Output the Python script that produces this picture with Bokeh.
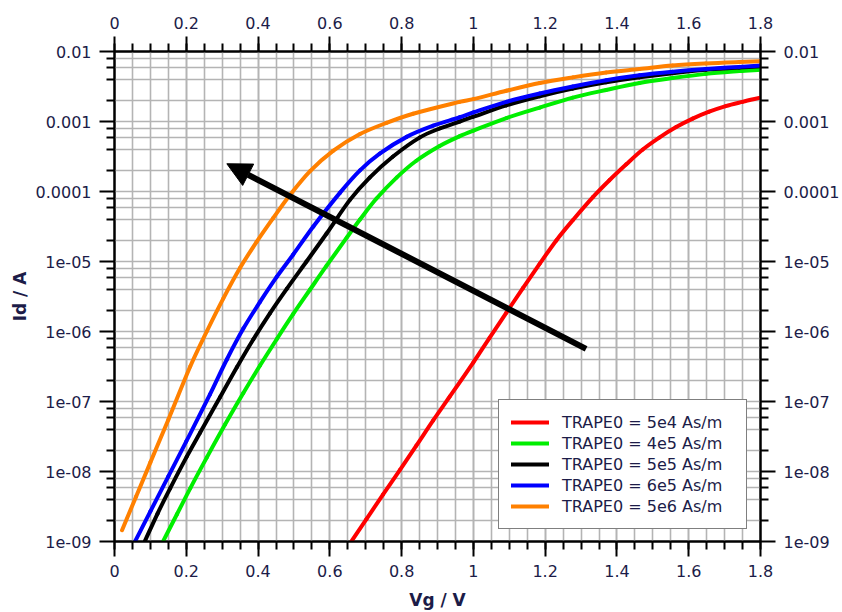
import math

from bokeh.plotting import figure
from bokeh.models import (LinearAxis, LogAxis, FixedTicker, CustomJSTickFormatter,
                          Legend, LegendItem, Arrow, NormalHead)
from bokeh.embed import file_html
from bokeh.resources import INLINE

# Transfer curves Id(Vg) for several TRAPE0 values
vg_red = [0.661, 0.702, 0.748, 0.795, 0.841, 0.888, 0.934, 1.0, 1.045, 1.092, 1.138, 1.185,
          1.231, 1.277, 1.333, 1.379, 1.426, 1.472, 1.518, 1.565, 1.611, 1.657, 1.703, 1.75, 1.8]
id_red = [1.02e-9, 2.09e-9, 4.68e-9, 1.05e-8, 2.34e-8, 5.37e-8, 1.17e-7, 3.63e-7, 8.13e-7,
          1.86e-6, 4.17e-6, 9.33e-6, 2.00e-5, 3.89e-5, 8.32e-5, 1.45e-4, 2.45e-4, 3.98e-4,
          5.89e-4, 8.32e-4, 1.10e-3, 1.38e-3, 1.66e-3, 1.91e-3, 2.19e-3]

vg_green = [0.136, 0.174, 0.211, 0.257, 0.308, 0.359, 0.405, 0.452, 0.498, 0.545, 0.591, 0.647,
            0.684, 0.73, 0.786, 0.841, 0.906, 0.962, 1.0, 1.092, 1.185, 1.277, 1.37, 1.463,
            1.555, 1.648, 1.741, 1.8]
id_green = [1.02e-9, 2.45e-9, 5.75e-9, 1.58e-8, 4.68e-8, 1.32e-7, 3.24e-7, 7.76e-7, 1.78e-6,
            3.98e-6, 8.71e-6, 2.19e-5, 3.98e-5, 7.94e-5, 1.58e-4, 2.75e-4, 4.47e-4, 6.17e-4,
            7.41e-4, 1.12e-3, 1.58e-3, 2.19e-3, 2.82e-3, 3.55e-3, 4.17e-3, 4.79e-3, 5.25e-3,
            5.50e-3]

vg_black = [0.085, 0.12, 0.155, 0.201, 0.238, 0.294, 0.341, 0.387, 0.433, 0.48, 0.535, 0.591,
            0.656, 0.711, 0.776, 0.85, 0.906, 0.962, 1.0, 1.092, 1.185, 1.277, 1.37, 1.463,
            1.555, 1.648, 1.741, 1.8]
id_black = [1.02e-9, 2.51e-9, 5.75e-9, 1.62e-8, 3.55e-8, 1.15e-7, 3.09e-7, 7.76e-7, 1.82e-6,
            4.07e-6, 1.00e-5, 2.51e-5, 7.59e-5, 1.58e-4, 3.16e-4, 5.89e-4, 7.94e-4, 1.00e-3,
            1.17e-3, 1.70e-3, 2.29e-3, 2.95e-3, 3.63e-3, 4.27e-3, 4.90e-3, 5.50e-3, 5.89e-3,
            6.17e-3]

vg_blue = [0.058, 0.1, 0.15, 0.2, 0.266, 0.313, 0.359, 0.405, 0.452, 0.498, 0.554, 0.628,
           0.684, 0.739, 0.814, 0.888, 0.962, 1.0, 1.092, 1.185, 1.277, 1.37, 1.463, 1.555,
           1.648, 1.741, 1.8]
id_blue = [1.02e-9, 2.69e-9, 8.51e-9, 2.69e-8, 1.26e-7, 3.98e-7, 1.10e-6, 2.63e-6, 6.03e-6,
           1.26e-5, 3.16e-5, 9.55e-5, 2.00e-4, 3.47e-4, 6.03e-4, 8.71e-4, 1.15e-3, 1.35e-3,
           1.91e-3, 2.51e-3, 3.16e-3, 3.89e-3, 4.57e-3, 5.13e-3, 5.62e-3, 6.03e-3, 6.31e-3]

vg_orange = [0.021, 0.06, 0.1, 0.15, 0.211, 0.257, 0.303, 0.35, 0.396, 0.442, 0.489, 0.545,
             0.609, 0.684, 0.758, 0.832, 0.962, 1.0, 1.092, 1.185, 1.277, 1.37, 1.463, 1.555,
             1.648, 1.741, 1.8]
id_orange = [1.45e-9, 4.37e-9, 1.35e-8, 5.50e-8, 3.16e-7, 1.00e-6, 2.95e-6, 8.13e-6, 1.91e-5,
             4.17e-5, 8.91e-5, 1.95e-4, 3.80e-4, 6.61e-4, 9.55e-4, 1.29e-3, 1.91e-3, 2.09e-3,
             2.75e-3, 3.55e-3, 4.27e-3, 5.01e-3, 5.62e-3, 6.31e-3, 6.76e-3, 7.08e-3, 7.24e-3]

series_labels = ["TRAPE0 = 5e4 As/m", "TRAPE0 = 4e5 As/m", "TRAPE0 = 5e5 As/m",
                 "TRAPE0 = 6e5 As/m", "TRAPE0 = 5e6 As/m"]
series_colors = ["#ff0000", "#00ee00", "#000000", "#0000ff", "#ff8000"]

# Axis ticks and labels
x_ticks = [0, 0.2, 0.4, 0.6, 0.8, 1.0, 1.2, 1.4, 1.6, 1.8]
x_tick_labels = ["0", "0.2", "0.4", "0.6", "0.8", "1", "1.2", "1.4", "1.6", "1.8"]
x_minor = [round(i * 0.05, 2) for i in range(37)]
y_ticks = [1e-9, 1e-8, 1e-7, 1e-6, 1e-5, 1e-4, 1e-3, 1e-2]
y_tick_labels = ["1e-09", "1e-08", "1e-07", "1e-06", "1e-05", "0.0001", "0.001", "0.01"]
y_minor = [m * d for d in y_ticks[:-1] for m in (2, 4, 6, 8)]

# Trend arrow (tail -> head)
arrow_tail = (1.314, 5.66e-7)
arrow_head = (0.313, 2.49e-4)

TEXT = "#1c1c48"
FONT = "DejaVu Sans"
GRID = "#b4b4b4"


def hermite_segments(xs, ys):
    """Cubic Hermite segments through every point, built in (Vg, log10 Id) space."""
    ly = [math.log10(v) for v in ys]
    n = len(xs)
    slopes = []
    for i in range(n):
        a, b = max(i - 1, 0), min(i + 1, n - 1)
        slopes.append((ly[b] - ly[a]) / (xs[b] - xs[a]))
    seg = dict(x0=[], y0=[], x1=[], y1=[], cx0=[], cy0=[], cx1=[], cy1=[])
    for i in range(n - 1):
        h = xs[i + 1] - xs[i]
        seg["x0"].append(xs[i])
        seg["y0"].append(ys[i])
        seg["x1"].append(xs[i + 1])
        seg["y1"].append(ys[i + 1])
        seg["cx0"].append(xs[i] + h / 3)
        seg["cy0"].append(10 ** (ly[i] + slopes[i] * h / 3))
        seg["cx1"].append(xs[i + 1] - h / 3)
        seg["cy1"].append(10 ** (ly[i + 1] - slopes[i + 1] * h / 3))
    return seg


p = figure(width=842, height=612, output_backend="svg", toolbar_location=None,
           x_range=(0, 1.8), y_range=(1e-9, 1e-2), y_axis_type="log",
           x_axis_location=None, y_axis_location=None,
           min_border_left=114, min_border_right=81, min_border_top=51, min_border_bottom=71)
p.background_fill_color = "white"
p.border_fill_color = "white"
p.outline_line_color = "black"
p.outline_line_width = 2

x_ticker = FixedTicker(ticks=x_ticks, minor_ticks=x_minor)
y_ticker = FixedTicker(ticks=y_ticks, minor_ticks=y_minor)

x_fmt = CustomJSTickFormatter(args=dict(vals=x_ticks, labs=x_tick_labels), code="""
    let best = 0;
    for (let i = 0; i < vals.length; i++) {
        if (Math.abs(vals[i] - tick) < Math.abs(vals[best] - tick)) best = i;
    }
    return labs[best];
""")
y_fmt = CustomJSTickFormatter(args=dict(vals=y_ticks, labs=y_tick_labels), code="""
    let best = 0;
    const lt = Math.log10(tick);
    for (let i = 0; i < vals.length; i++) {
        if (Math.abs(Math.log10(vals[i]) - lt) < Math.abs(Math.log10(vals[best]) - lt)) best = i;
    }
    return labs[best];
""")


def style_axis(ax):
    ax.axis_line_color = "black"
    ax.axis_line_width = 2
    ax.major_tick_line_color = "black"
    ax.major_tick_line_width = 2
    ax.minor_tick_line_color = "black"
    ax.minor_tick_line_width = 2
    ax.major_tick_in = 0
    ax.major_tick_out = 15
    ax.minor_tick_in = 0
    ax.minor_tick_out = 8
    ax.major_label_text_font = FONT
    ax.major_label_text_font_size = "16px"
    ax.major_label_text_color = TEXT
    ax.major_label_standoff = 8
    ax.axis_label_text_font = FONT
    ax.axis_label_text_font_size = "17px"
    ax.axis_label_text_font_style = "bold"
    ax.axis_label_text_color = TEXT


bottom = LinearAxis(ticker=x_ticker, formatter=x_fmt, axis_label="Vg / V")
top = LinearAxis(ticker=x_ticker, formatter=x_fmt)
left = LogAxis(ticker=y_ticker, formatter=y_fmt, axis_label="Id / A")
right = LogAxis(ticker=y_ticker, formatter=y_fmt)
for ax in (bottom, top, left, right):
    style_axis(ax)
bottom.axis_label_standoff = 10
left.axis_label_standoff = 3
p.add_layout(bottom, "below")
p.add_layout(top, "above")
p.add_layout(left, "left")
p.add_layout(right, "right")

# Grid: major and minor lines look the same
p.xgrid.ticker = x_ticker
p.ygrid.ticker = y_ticker
for g in (p.xgrid, p.ygrid):
    g.grid_line_color = GRID
    g.grid_line_width = 1.6
    g.minor_grid_line_color = GRID
    g.minor_grid_line_width = 1.6

curves = [(vg_red, id_red), (vg_green, id_green), (vg_black, id_black),
          (vg_blue, id_blue), (vg_orange, id_orange)]
renderers = []
for (xs, ys), color in zip(curves, series_colors):
    seg = hermite_segments(xs, ys)
    r = p.bezier(x0="x0", y0="y0", x1="x1", y1="y1", cx0="cx0", cy0="cy0",
                 cx1="cx1", cy1="cy1", source=seg, line_color=color, line_width=4,
                 line_cap="round")
    renderers.append(r)

p.add_layout(Arrow(end=NormalHead(size=24, fill_color="black", line_color="black", line_width=1),
                   x_start=arrow_tail[0], y_start=arrow_tail[1],
                   x_end=arrow_head[0], y_end=arrow_head[1],
                   line_color="black", line_width=6))

legend = Legend(items=[LegendItem(label=lab, renderers=[r]) for lab, r in zip(series_labels, renderers)],
                location=(384, 12), padding=12, spacing=1, glyph_width=38, glyph_height=20,
                label_height=20, label_width=172, label_standoff=13,
                label_text_font=FONT, label_text_font_size="16px", label_text_color=TEXT,
                border_line_color="black", border_line_width=1.5,
                background_fill_color="white", background_fill_alpha=1.0)
p.add_layout(legend, "center")

with open("out.html", "w") as f:
    f.write(file_html(p, INLINE))
